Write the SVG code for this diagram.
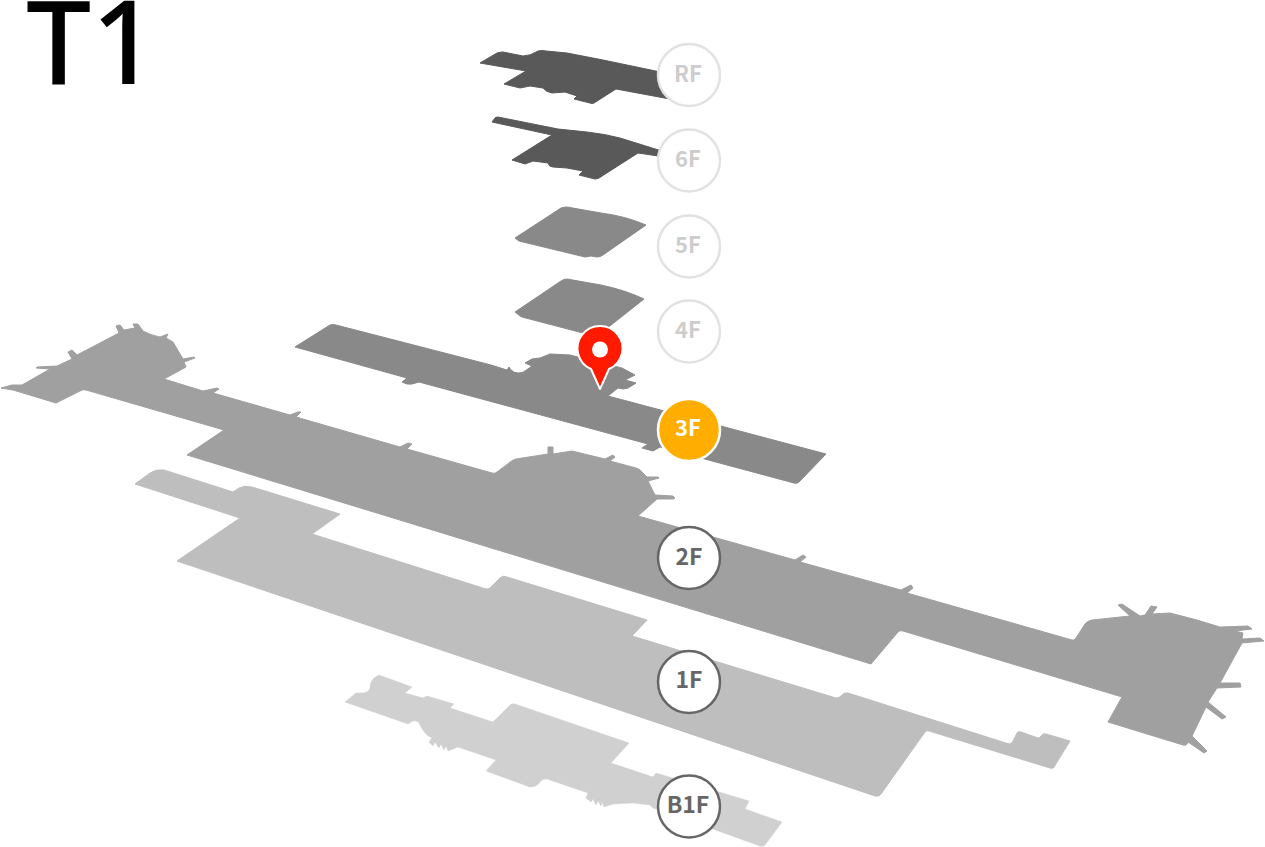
<svg xmlns="http://www.w3.org/2000/svg" width="1265" height="847" viewBox="0 0 1265 847">
<style>
.f{stroke-linejoin:round;stroke-width:1}
.dk{fill:#595959;stroke:#595959}.md{fill:#898989;stroke:#898989}.f2{fill:#a0a0a0;stroke:#a0a0a0}.f1{fill:#bebebe;stroke:#bebebe}.fb{fill:#d0d0d0;stroke:#d0d0d0}
.fb{stroke-width:.5}
.c{stroke-width:2.5}
.off{fill:#fff;stroke:#e2e2e2}.off+text{fill:#cdcdcd}
.on{fill:#fff;stroke:#666}.on+text{fill:#666}
.cur{fill:#ffae00;stroke:#fff}.cur+text{fill:#fff}
text{font-family:"Noto Sans CJK KR","Noto Sans",sans-serif;font-weight:700;font-size:22px;text-anchor:middle}
</style>
<rect width="1265" height="847" fill="#fff"/>
<text id="title" x="26" y="84" style="font-family:'Noto Sans','Open Sans',sans-serif;font-weight:500;font-size:116px;fill:#000;text-anchor:start">T1</text>
<g id="plans">
<path id="plan-RF" class="f dk" d="M480 63L497 53Q500 52 503 52L523 56Q530 56 538 51Q542 50 546 51L567 53L603 60L670 74V99L616 89L594 103Q592 104 590 103L574 99L577 96L565 92L552 93Q546 92 543 88L530 86L520 88L504 84L526 71Z"/>
<path id="plan-6F" class="f dk" d="M492 122L495 118Q496 117 498 117L558 129L587 132Q605 134 620 138L665 152V157L638 153L599 178Q597 179 595 179L579 175L583 171L567 168L553 167Q549 167 548 163L533 161L525 164L512 160L552 135Z"/>
<path id="plan-5F" class="f md" d="M515 238L519 241L585 257L591 256L597 257Q600 257 603 255L646 225Q625 216 601 213L567 207Q564 207 561 208Z"/>
<path id="plan-4F" class="f md" d="M515 312L520 316L522 317L583 333L601 333L644 299Q625 290 601 285L567 279Q564 279 561 281Z"/>
<path id="plan-3F" class="f md" d="M295 347L330 325Q333 324 336 325L491 365L507 370L509 367L511 370Q514 373 518 373Q523 373 525 371L532 366L525 363L532 359L540 358L550 354L570 355L590 360L622 368L635 375L625 380L636 383L628 388Q623 390 618 388L608 396L826 454L799 482Q797 484 794 483L660 447L653 451L642 448L648 444L419 382L412 384Q407 385 402 382L407 378Z"/>
<path id="plan-2F" class="f f2" d="M13 390L1 388L12 385L22 385L50 369L36 368L37 367L57 366L72 359L68 352L72 350L77 355L119 333L116 326L120 325L124 330L135 328L133 324L138 324L143 331Q150 335 160 337L168 334L166 338L173 342L183 359L194 357L195 358L184 362L186 367L164 379L203 391L217 388L219 389L213 393L290 415L298 412L301 412L296 417L400 447L408 443L412 444L407 449L492 473Q495 474 497 472L509 463Q512 460 516 459L548 454L548 447L553 447L553 454L572 451L605 459L613 455L615 457L610 461L636 468Q640 469 642 472L647 477L658 477L659 478L648 481L655 495L673 496L675 498L673 499L657 499L638 516L795 560L803 555L806 557L800 562L901 590L911 585L913 588L907 593L1072 640Q1074 641 1076 638L1085 624Q1087 621 1092 620L1130 616L1118 605L1122 604L1140 616L1145 615L1151 606L1157 607L1152 614L1170 613Q1195 619 1220 627L1248 626L1252 629L1235 631L1243 633L1242 639L1260 638L1264 641L1242 643L1220 683L1240 683L1241 687L1217 688L1208 702L1226 717L1222 719L1206 707L1192 736L1207 751L1204 753L1188 742Q1187 746 1183 745L1108 722L1122 697L903 631Q900 630 898 632L871 664L187 455L224 430L86 390Q83 389 80 391L56 403Z"/>
<path id="plan-1F" class="f f1" d="M135 484L150 473Q156 469 164 470L233 492L239 488Q245 485 252 487L340 514L312 534L486 589Q488 589 490 588L500 578Q503 575 507 577L647 620L632 636L836 698Q839 698 841 696Q844 692 848 693L1009 744Q1012 744 1013 741L1017 733Q1018 731 1021 732L1038 738Q1040 738 1041 736Q1043 733 1046 734L1070 741L1054 767Q1053 769 1050 768L929 731Q927 730 925 732L881 794Q879 797 875 796L177 561L240 518Z"/>
<path id="plan-B1F" class="f fb" d="M345 702L356 693L363 693Q369 692 370 688Q370 682 374 678L379 675L412 687L405 693L423 698L427 696L454 704L450 708L493 722L510 705Q512 703 515 704L629 743L611 763L653 777L656 773L749 801L745 809L782 822L765 845Q763 847 760 846L710 828L653 808L650 805L633 803L613 804L604 807L602 802L601 806L598 801L596 805L593 799L591 802L586 798L588 793L547 779Q543 778 540 782Q537 787 530 787L486 771L496 760L458 747L448 751L446 746L444 750L441 744L439 748L435 742L433 746L429 742L432 738L427 735Q423 731 420 725Q418 720 413 721L408 724Z"/>
</g>
<g id="connectors"/>
<g id="floor-RF"><circle class="c off" cx="689" cy="75" r="31"/><text x="688" y="82">RF</text></g>
<g id="floor-6F"><circle class="c off" cx="689" cy="160.500" r="31"/><text x="688" y="167">6F</text></g>
<g id="floor-5F"><circle class="c off" cx="689" cy="246.500" r="31"/><text x="688" y="253">5F</text></g>
<g id="floor-4F"><circle class="c off" cx="689" cy="331.500" r="31"/><text x="688" y="338">4F</text></g>
<g id="floor-3F"><circle class="c cur" cx="689" cy="430" r="31"/><text x="688" y="436">3F</text></g>
<g id="floor-2F"><circle class="c on" cx="689" cy="558" r="31"/><text x="689" y="565" style="font-size:23px">2F</text></g>
<g id="floor-1F"><circle class="c on" cx="689" cy="682" r="31"/><text x="689" y="688" style="font-size:23px">1F</text></g>
<g id="floor-B1F"><circle class="c on" cx="689" cy="806.500" r="31"/><text x="688" y="813" style="font-size:23px">B1F</text></g>
<g id="pin">
<path d="M600 389L591 369A22.500 22.500 0 1 1 609 369Z" fill="#ff1a00" stroke="#fff" stroke-width="2" stroke-linejoin="round"/>
<circle cx="600" cy="349.500" r="8" fill="#fff"/>
</g>
</svg>
